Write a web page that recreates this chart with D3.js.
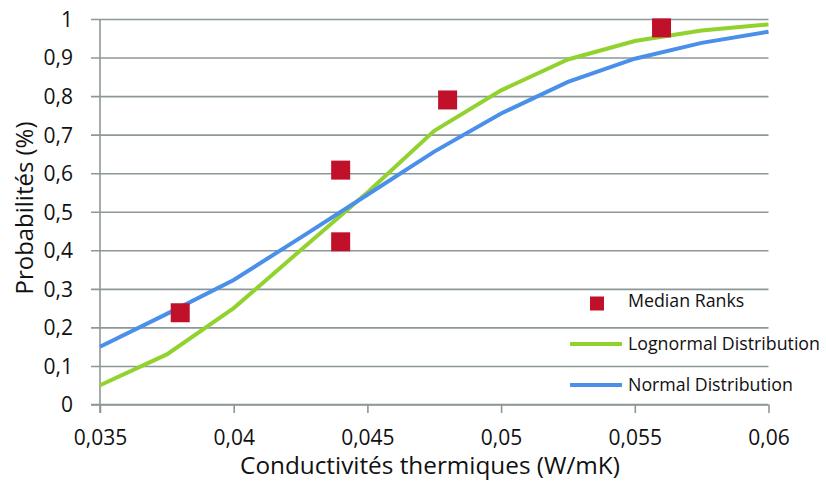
<!DOCTYPE html>
<html><head><meta charset="utf-8">
<script src="https://cdn.jsdelivr.net/npm/d3@7"></script>
<style>body{margin:0;background:#fff}svg{display:block}text{font-family:"Open Sans",sans-serif;fill:#111}</style>
</head><body>
<script>
const xTicks = [0.035, 0.04, 0.045, 0.05, 0.055, 0.06];
const yTicks = [0, 0.1, 0.2, 0.3, 0.4, 0.5, 0.6, 0.7, 0.8, 0.9, 1];
const curveX = [0.035, 0.0375, 0.04, 0.0425, 0.045, 0.0475, 0.05, 0.0525, 0.055, 0.0575, 0.06];
const lognormal = [0.05, 0.13, 0.25, 0.40, 0.55, 0.71, 0.815, 0.895, 0.943, 0.970, 0.986];
const normal = [0.15, 0.235, 0.323, 0.433, 0.544, 0.656, 0.755, 0.837, 0.897, 0.938, 0.967];
const rankX = [0.038, 0.044, 0.044, 0.048, 0.056];
const rankY = [0.238, 0.422, 0.608, 0.79, 0.977];
const legendLabels = ["Median Ranks", "Lognormal Distribution", "Normal Distribution"];
const xTitle = "Conductivités thermiques (W/mK)";
const yTitle = "Probabilités (%)";

const W = 826, H = 483;
const svg = d3.select("body").append("svg").attr("width", W).attr("height", H);
const x = d3.scaleLinear().domain([0.035, 0.06]).range([100, 768.5]);
const y = d3.scaleLinear().domain([0, 1]).range([404.5, 19]);
const fmt = d => String(+d.toFixed(3)).replace(".", ",");
const gridC = "#8d9797";
const green = "#92d22f", blue = "#4a8fea", red = "#c0102a";

function fit(sel, target) {
  const n = sel.node(); const fs = parseFloat(sel.style("font-size"));
  const w = n.getComputedTextLength(); sel.style("font-size", (fs * target / w) + "px");
}

// y gridlines + labels
const gy = svg.append("g").attr("transform", "translate(100,0)")
  .call(d3.axisLeft(y).tickValues(yTicks).tickSize(-668.5).tickSizeOuter(0).tickFormat(fmt).tickPadding(27));
gy.select(".domain").remove();
gy.selectAll(".tick line").attr("x1", -9).attr("stroke", gridC).attr("stroke-width", 1.6);
gy.selectAll(".tick text").attr("fill", "#111").style("font-size", "21px").style("font-family", "Open Sans").attr("dy", "0.35em");

// x axis
const gx = svg.append("g").attr("transform", "translate(0,404.5)")
  .call(d3.axisBottom(x).tickValues(xTicks).tickSize(8.5).tickSizeOuter(0).tickFormat(fmt).tickPadding(10));
gx.select(".domain").attr("stroke", gridC).attr("stroke-width", 1.6).attr("d", "M91,0H768.5");
gx.selectAll(".tick line").attr("stroke", gridC).attr("stroke-width", 1.6);
gx.selectAll(".tick text").attr("fill", "#111").style("font-size", "21px").style("font-family", "Open Sans").attr("dy", "0").attr("y", 40);

// y axis line
svg.append("line").attr("x1", 100).attr("x2", 100).attr("y1", 19).attr("y2", 413).attr("stroke", gridC).attr("stroke-width", 1.6);

// curves
const line = d3.line().x((d, i) => x(curveX[i])).y(d => y(d));
svg.append("path").datum(lognormal).attr("d", line).attr("fill", "none").attr("stroke", green).attr("stroke-width", 4);
svg.append("path").datum(normal).attr("d", line).attr("fill", "none").attr("stroke", blue).attr("stroke-width", 4);

// median ranks
const s = 19;
svg.selectAll("rect.rk").data(rankX).join("rect").attr("class", "rk")
  .attr("x", (d) => x(d) - s / 2).attr("y", (d, i) => y(rankY[i]) - s / 2)
  .attr("width", s).attr("height", s).attr("fill", red);

// legend
const lg = svg.append("g");
lg.append("rect").attr("x", 590).attr("y", 296.5).attr("width", 14).attr("height", 14).attr("fill", red);
lg.append("line").attr("x1", 570).attr("x2", 622).attr("y1", 344).attr("y2", 344).attr("stroke", green).attr("stroke-width", 4);
lg.append("line").attr("x1", 570).attr("x2", 622).attr("y1", 385).attr("y2", 385).attr("stroke", blue).attr("stroke-width", 4);
const ly = [307, 350, 391];
const lt = lg.selectAll("text").data(legendLabels).join("text")
  .attr("x", 628).attr("y", (d, i) => ly[i]).text(d => d).style("font-size", "16px");
fit(d3.select(lt.nodes()[1]), 192);
const lfs = d3.select(lt.nodes()[1]).style("font-size");
lt.style("font-size", lfs);

// titles
const xt = svg.append("text").attr("x", 430).attr("y", 474).attr("text-anchor", "middle").text(xTitle).style("font-size", "20px");
fit(xt, 380);
const yt = svg.append("text").attr("transform", "translate(33,208) rotate(-90)").attr("text-anchor", "middle").text(yTitle).style("font-size", "20px");
fit(yt, 173);
</script>
</body></html>
